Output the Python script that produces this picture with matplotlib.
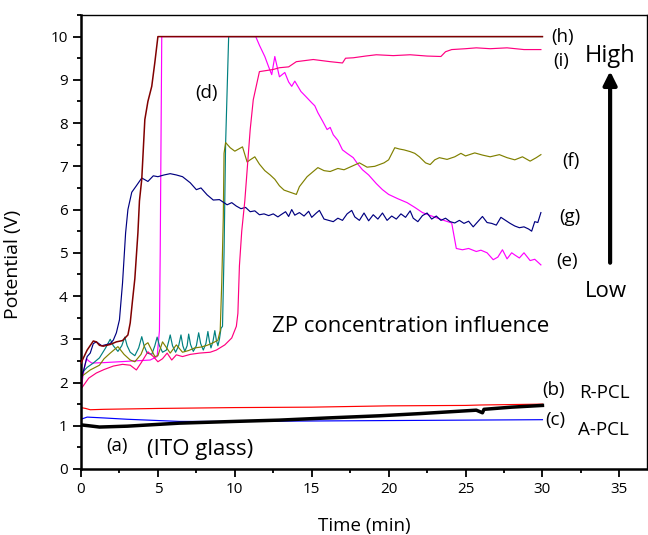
import numpy as np
import matplotlib
matplotlib.use("Agg")
import matplotlib.pyplot as plt
from matplotlib.ticker import MultipleLocator

plt.rcParams['font.family'] = ['Open Sans', 'DejaVu Sans']

# (a) ITO glass, (b) R-PCL, (c) A-PCL
a_pts = [(0, 1.02), (0.5, 1.0), (1.2, 0.97), (3, 0.99), (6.4, 1.06), (10, 1.1), (12.9, 1.13),
         (16, 1.18), (19.4, 1.23), (22, 1.28), (25.7, 1.36), (25.9, 1.33), (26.1, 1.3),
         (26.2, 1.38), (28, 1.43), (30, 1.47)]
b_pts = [(0, 1.42), (0.3, 1.4), (0.6, 1.37), (1.5, 1.38), (5, 1.4), (10, 1.42), (15, 1.43),
         (20, 1.46), (25, 1.47), (26, 1.48), (30, 1.5)]
c_pts = [(0, 1.15), (0.4, 1.2), (1.5, 1.18), (3, 1.15), (6.4, 1.1), (10, 1.1), (15, 1.11),
         (20, 1.12), (25, 1.13), (30, 1.14)]

# (d) teal
d_pts = [(0, 2.2), (0.4, 2.35), (0.8, 2.45), (1.2, 2.57), (1.6, 2.8), (1.9, 3.0), (2.1, 2.85),
         (2.4, 2.72), (2.65, 2.85), (2.85, 3.05), (3.0, 2.85), (3.2, 2.7), (3.5, 2.62), (3.75, 2.8),
         (3.95, 3.06), (4.1, 2.85), (4.3, 2.68), (4.6, 2.65), (4.8, 2.85), (4.95, 3.05), (5.1, 2.85),
         (5.3, 2.7), (5.55, 2.75), (5.7, 2.95), (5.8, 3.1), (5.95, 2.85), (6.15, 2.7), (6.35, 2.85),
         (6.5, 3.1), (6.62, 2.85), (6.75, 2.72), (6.9, 2.85), (7.0, 3.12), (7.12, 2.88), (7.3, 2.72),
         (7.5, 2.85), (7.65, 3.15), (7.78, 2.9), (7.95, 2.75), (8.12, 2.9), (8.25, 3.18), (8.35, 2.95),
         (8.45, 2.8), (8.58, 2.95), (8.7, 3.2), (8.8, 2.98), (8.9, 2.85), (9.0, 3.0), (9.1, 3.25),
         (9.2, 3.3), (9.3, 5.0), (9.4, 7.5), (9.6, 10.0), (30.0, 10.0)]

# (e) magenta
e_pts = [(0, 1.85), (0.2, 2.3), (0.35, 2.55), (0.5, 2.5), (0.7, 2.45), (1.5, 2.46), (2.5, 2.48),
         (3.5, 2.5), (4.5, 2.52), (4.95, 2.6), (5.1, 3.2), (5.15, 5.0), (5.25, 10.0),
         (11.36, 10.0), (11.6, 9.8), (11.95, 9.54), (12.2, 9.3), (12.4, 9.12), (12.6, 9.54),
         (12.9, 9.07), (13.25, 9.17), (13.5, 8.95), (13.7, 8.85), (13.9, 8.97), (14.3, 8.73),
         (14.6, 8.62), (15.0, 8.47), (15.2, 8.4), (15.4, 8.24), (15.7, 8.05), (16.0, 7.85),
         (16.2, 7.9), (16.4, 7.73), (16.7, 7.6), (17.0, 7.38), (17.3, 7.3), (17.7, 7.2),
         (18.0, 7.05), (18.3, 6.92), (18.7, 6.8), (19.2, 6.6), (19.6, 6.46), (20.0, 6.35),
         (20.6, 6.25), (21.2, 6.16), (21.7, 6.05), (22.2, 5.93), (22.8, 5.85), (23.5, 5.76),
         (24.1, 5.69), (24.4, 5.1), (24.8, 5.07), (25.2, 5.1), (25.7, 5.03), (26.0, 5.06),
         (26.4, 5.0), (26.8, 4.84), (27.1, 4.9), (27.4, 5.07), (27.7, 4.86), (28.0, 5.0),
         (28.2, 4.95), (28.5, 4.88), (28.8, 5.0), (29.2, 4.82), (29.5, 4.85), (29.9, 4.72)]

# (f) olive
f_pts = [(0, 2.13), (0.6, 2.29), (1.2, 2.4), (1.5, 2.55), (1.9, 2.68), (2.4, 2.83), (2.8, 2.65),
         (3.2, 2.52), (3.5, 2.48), (3.9, 2.65), (4.15, 2.87), (4.35, 2.92), (4.8, 2.6),
         (5.0, 2.62), (5.3, 2.94), (5.8, 2.68), (6.2, 2.87), (6.6, 2.7), (7.0, 2.74), (7.4, 2.8),
         (7.8, 2.82), (8.2, 2.86), (8.6, 2.92), (8.9, 2.98), (9.05, 3.2), (9.15, 4.3),
         (9.25, 5.8), (9.3, 7.3), (9.4, 7.55), (9.7, 7.43), (10.0, 7.35), (10.5, 7.45),
         (10.8, 7.1), (11.0, 7.15), (11.3, 7.22), (11.6, 7.05), (11.95, 6.9), (12.3, 6.8),
         (12.6, 6.7), (12.9, 6.55), (13.2, 6.45), (13.6, 6.4), (14.0, 6.35), (14.2, 6.53),
         (14.7, 6.76), (15.0, 6.85), (15.4, 6.97), (15.8, 6.9), (16.2, 6.88), (16.7, 6.95),
         (17.1, 6.92), (17.6, 7.0), (18.1, 7.08), (18.6, 6.98), (19.1, 7.0), (19.7, 7.08),
         (20.0, 7.15), (20.4, 7.43), (20.7, 7.4), (21.0, 7.38), (21.4, 7.34), (21.7, 7.3),
         (22.0, 7.22), (22.4, 7.08), (22.7, 7.04), (23.0, 7.15), (23.3, 7.2), (23.8, 7.16),
         (24.3, 7.22), (24.7, 7.3), (25.0, 7.24), (25.6, 7.31), (26.1, 7.26), (26.6, 7.22),
         (27.2, 7.27), (27.7, 7.2), (28.2, 7.15), (28.7, 7.22), (29.2, 7.12), (29.6, 7.2),
         (29.9, 7.27)]

# (g) navy
g_pts = [(0, 2.05), (0.4, 2.6), (0.6, 2.68), (0.8, 2.9), (1.0, 2.94), (1.35, 2.85), (1.9, 2.9),
         (2.1, 2.98), (2.3, 3.15), (2.5, 3.45), (2.7, 4.3), (2.9, 5.46), (3.05, 6.0), (3.3, 6.4),
         (3.6, 6.55), (3.95, 6.73), (4.35, 6.65), (4.7, 6.78), (5.0, 6.76), (5.4, 6.8),
         (5.8, 6.83), (6.2, 6.8), (6.6, 6.76), (7.1, 6.62), (7.5, 6.46), (7.8, 6.5), (8.2, 6.34),
         (8.6, 6.22), (9.0, 6.23), (9.5, 6.11), (9.8, 6.16), (10.1, 6.08), (10.4, 6.02),
         (10.7, 6.05), (11.0, 5.95), (11.3, 5.97), (11.6, 5.88), (11.9, 5.9), (12.2, 5.86),
         (12.5, 5.9), (12.8, 5.83), (13.0, 5.88), (13.3, 5.95), (13.5, 5.84), (13.7, 6.0),
         (13.9, 5.87), (14.2, 5.93), (14.5, 5.85), (14.8, 5.96), (15.0, 5.82), (15.3, 5.92),
         (15.5, 5.98), (15.8, 5.78), (16.1, 5.75), (16.4, 5.72), (16.7, 5.8), (17.0, 5.75),
         (17.3, 5.9), (17.6, 5.98), (17.8, 5.83), (18.1, 5.75), (18.4, 5.92), (18.7, 5.74),
         (19.0, 5.88), (19.3, 5.78), (19.6, 5.92), (19.9, 5.75), (20.2, 5.85), (20.5, 5.78),
         (20.8, 5.9), (21.1, 5.82), (21.4, 5.97), (21.6, 5.8), (21.9, 5.72), (22.2, 5.86),
         (22.5, 5.92), (22.8, 5.78), (23.1, 5.85), (23.4, 5.75), (23.7, 5.8), (24.0, 5.72),
         (24.3, 5.69), (24.6, 5.75), (24.9, 5.68), (25.2, 5.73), (25.5, 5.6), (25.8, 5.72),
         (26.1, 5.84), (26.4, 5.7), (26.7, 5.68), (27.0, 5.64), (27.3, 5.82), (27.6, 5.75),
         (27.9, 5.68), (28.2, 5.62), (28.5, 5.58), (28.8, 5.6), (29.1, 5.55), (29.3, 5.5),
         (29.5, 5.72), (29.7, 5.7), (29.9, 5.93)]

# (h) maroon
h_pts = [(0, 2.45), (0.4, 2.75), (0.8, 2.96), (1.0, 2.94), (1.2, 2.86), (1.45, 2.84), (1.9, 2.88),
         (2.3, 2.94), (2.7, 2.97), (3.05, 3.1), (3.2, 3.38), (3.35, 3.9), (3.5, 4.4), (3.7, 5.46),
         (3.8, 6.2), (3.95, 6.7), (4.15, 8.08), (4.35, 8.5), (4.6, 8.85), (4.8, 9.4), (5.0, 10.0),
         (30.0, 10.0)]

# (i) deep pink
i_pts = [(0, 1.85), (0.5, 2.1), (1.0, 2.22), (1.5, 2.3), (2.1, 2.38), (2.7, 2.42), (3.2, 2.4),
         (3.6, 2.29), (3.9, 2.45), (4.35, 2.71), (4.7, 2.6), (5.0, 2.48), (5.3, 2.55), (5.6, 2.68),
         (5.9, 2.52), (6.2, 2.64), (6.6, 2.6), (7.1, 2.65), (7.7, 2.68), (8.4, 2.7), (8.8, 2.75),
         (9.35, 2.87), (9.8, 3.03), (10.1, 3.3), (10.2, 3.6), (10.3, 4.7), (10.45, 5.5),
         (10.65, 6.2), (11.0, 7.85), (11.2, 8.54), (11.6, 9.19), (12.5, 9.24), (12.9, 9.28),
         (13.5, 9.3), (14.0, 9.42), (15.1, 9.47), (16.2, 9.42), (17.0, 9.39), (17.2, 9.5),
         (17.7, 9.51), (18.5, 9.55), (19.2, 9.58), (20.3, 9.56), (21.4, 9.58), (22.5, 9.55),
         (23.4, 9.54), (23.7, 9.65), (24.1, 9.7), (25.0, 9.72), (25.7, 9.74), (26.6, 9.72),
         (27.7, 9.74), (28.8, 9.7), (29.9, 9.7)]

fig = plt.figure(figsize=(6.48, 5.35), dpi=100)
ax = fig.add_axes([0.125, 0.1234, 0.8735, 0.8486])


def draw(pts, color, lw=0.85, z=2):
    arr = np.array(pts).T
    ax.plot(arr[0], arr[1], color=color, lw=lw, zorder=z)


draw(e_pts, '#FF00FF')
draw(d_pts, '#008080')
draw(f_pts, '#808000')
draw(g_pts, '#000080')
draw(i_pts, '#FF0080')
draw(h_pts, '#800000', lw=1.1, z=4)
draw(b_pts, '#FF0000')
draw(c_pts, '#0000FF')
draw(a_pts, 'black', lw=2.5, z=3)

ax.set_xlim(0, 36.8)
ax.set_ylim(0, 10.5)
ax.xaxis.set_major_locator(MultipleLocator(5))
ax.xaxis.set_minor_locator(MultipleLocator(2.5))
ax.yaxis.set_major_locator(MultipleLocator(1))
ax.yaxis.set_minor_locator(MultipleLocator(0.5))
ax.tick_params(which='both', direction='out', top=False, right=False, labelsize=11, width=1.3)
ax.tick_params(which='major', length=6)
ax.tick_params(which='minor', length=3)
for s in ax.spines.values():
    s.set_linewidth(1.0)
ax.spines['left'].set_linewidth(1.8)
ax.spines['bottom'].set_linewidth(1.8)

ax.set_xlabel('Time (min)', fontsize=13.5)
ax.set_ylabel('Potential (V)', fontsize=14)
ax.xaxis.set_label_coords(0.5, -0.105)
ax.yaxis.set_label_coords(-0.104, 0.45)

fs = 13.5
ax.text(30.6, 10.0, '(h)', fontsize=fs, va='center')
ax.text(30.7, 9.44, '(i)', fontsize=fs, va='center')
ax.text(31.3, 7.13, '(f)', fontsize=fs, va='center')
ax.text(31.1, 5.83, '(g)', fontsize=fs, va='center')
ax.text(30.9, 4.8, '(e)', fontsize=fs, va='center')
ax.text(7.4, 8.7, '(d)', fontsize=fs, va='center')
ax.text(30.0, 1.83, '(b)', fontsize=fs, va='center')
ax.text(32.4, 1.64, 'R-PCL', fontsize=fs, va='baseline')
ax.text(30.2, 1.13, '(c)', fontsize=fs, va='center')
ax.text(32.3, 0.79, 'A-PCL', fontsize=fs, va='baseline')
ax.text(1.62, 0.53, '(a)', fontsize=fs, va='center')
ax.text(4.29, 0.32, '(ITO glass)', fontsize=16, va='baseline')
ax.text(12.45, 3.17, 'ZP concentration influence', fontsize=16, va='baseline')
ax.text(34.4, 9.42, 'High', fontsize=17, va='baseline', ha='center')
ax.text(34.1, 3.98, 'Low', fontsize=16, va='baseline', ha='center')
ax.annotate('', xy=(34.4, 9.2), xytext=(34.4, 4.77),
            arrowprops=dict(arrowstyle='-|>', lw=3, color='black', mutation_scale=20,
                            shrinkA=0, shrinkB=0))

fig.savefig('out.png', dpi=100)
